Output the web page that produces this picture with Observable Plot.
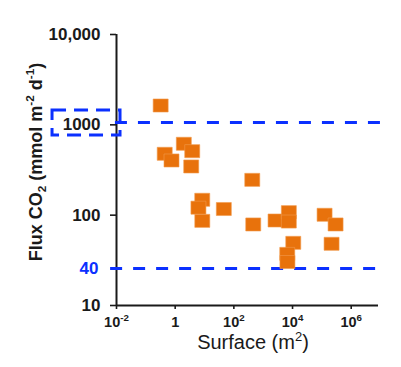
<!DOCTYPE html>
<html><head><meta charset="utf-8">
<script src="https://cdn.jsdelivr.net/npm/d3@7"></script>
<script src="https://cdn.jsdelivr.net/npm/@observablehq/plot@0.6"></script>
<style>
body{margin:0;background:#fff}
svg{font-family:"Liberation Sans",Arial,Helvetica,sans-serif}
</style>
</head><body><div id="chart"></div>
<script>
// Surface (m²) and CO2 flux (mmol m-2 d-1)
const surface = [0.32, 0.44, 0.75, 1.97, 3.81, 3.52, 8.36, 6.2, 8.4, 45.5, 424, 458, 2636, 7482, 7482, 10590, 6607, 6700, 123600, 293000, 214000];
const flux    = [1637, 478, 403, 617, 511, 346, 148, 121, 86.5, 117, 246, 78.9, 87.3, 108, 85, 49.4, 37.3, 30.3, 101, 78.9, 48.2];

const xTicks = [1e-2, 1, 1e2, 1e4, 1e6];
const xTickLabels = ["10^-2", "1", "10^2", "10^4", "10^6"];
const yTicks = [10, 100, 1000, 10000];
const yTickLabels = ["10", "100", "1000", "10,000"];

const xLabel = "Surface (m^2)";
const yLabel = "Flux CO_2 (mmol m^{-2} d^{-1})";

// reference dashed lines (as drawn)
const upperRef = 1062;
const upperRefX = [0.0092, 1.7e7];
const lowerRef = 25.6;
const lowerRefLabel = "40";
const lowerRefX = [0.0063, 1.2e7];
// dashed box around "1000"
const boxX = [6.6e-5, 0.0137];
const boxY = [762, 1442];

const blue = "#0b30ff";
const orange = "#e8720c";
const ink = "#1a1a1a";

const data = surface.map((s, i) => ({surface: s, flux: flux[i]}));

const rectSymbol = {
  draw(ctx, size) {
    const r = Math.sqrt(size / Math.PI);
    const w = r, h = r * 0.87;
    ctx.moveTo(-w, -h); ctx.lineTo(w, -h); ctx.lineTo(w, h); ctx.lineTo(-w, h); ctx.closePath();
  }
};

const dash = "12,11";

const chart = Plot.plot({
  width: 401,
  height: 367,
  marginTop: 34,
  marginBottom: 62,
  marginLeft: 116,
  marginRight: 23,
  x: {type: "log", domain: [1e-2, Math.pow(10, 6.93)]},
  y: {type: "log", domain: [10, 10000]},
  marks: [
    Plot.axisY({ticks: yTicks, tickFormat: d => yTickLabels[yTicks.indexOf(d)], tickSize: 6, tickPadding: 10,
      fontSize: 17, fontWeight: "bold", fill: ink, stroke: ink, strokeWidth: 1.6, label: null}),
    Plot.axisX({ticks: xTicks, tickFormat: d => xTickLabels[xTicks.indexOf(d)], tickSize: 4, tickPadding: 7,
      fontSize: 14.5, fontWeight: "bold", fill: ink, stroke: ink, strokeWidth: 1.6, label: null}),
    Plot.ruleX([1e-2], {stroke: ink, strokeWidth: 2}),
    Plot.ruleY([10], {stroke: ink, strokeWidth: 2}),
    Plot.rect([0], {x1: () => boxX[0], x2: () => boxX[1], y1: () => boxY[0], y2: () => boxY[1],
      fill: "none", stroke: blue, strokeWidth: 3, strokeDasharray: "14,8"}),
    Plot.ruleY([upperRef], {x1: upperRefX[0], x2: upperRefX[1], stroke: blue, strokeWidth: 3, strokeDasharray: dash}),
    Plot.ruleY([lowerRef], {x1: lowerRefX[0], x2: lowerRefX[1], stroke: blue, strokeWidth: 3, strokeDasharray: dash}),
    Plot.text([lowerRefLabel], {x: 1e-2, y: lowerRef, text: d => d, dx: -18, textAnchor: "end",
      fill: blue, fontSize: 17, fontWeight: "bold"}),
    Plot.dot(data, {x: "surface", y: "flux", symbol: rectSymbol, r: 7.5, fill: orange, stroke: "#f19a4e", strokeWidth: 0.6})
  ]
});

const svg = d3.select(chart);
svg.append("text").attr("class", "rich").attr("data-fs", 18)
  .attr("transform", "translate(42,162) rotate(-90)")
  .attr("text-anchor", "middle").attr("font-size", 18).attr("font-weight", "bold").attr("fill", ink)
  .text(yLabel);
svg.append("text").attr("class", "rich").attr("data-fs", 20)
  .attr("x", 253).attr("y", 349)
  .attr("text-anchor", "middle").attr("font-size", 20).attr("fill", ink)
  .text(xLabel);

function richify(el, fs) {
  const s = el.textContent;
  if (!/[\^_]/.test(s)) return;
  while (el.firstChild) el.removeChild(el.firstChild);
  const parts = s.match(/[\^_]\{[^}]*\}|[\^_][^\s{}()]+|[^\^_]+/g);
  let shift = 0;
  for (const p of parts) {
    const t = document.createElementNS("http://www.w3.org/2000/svg", "tspan");
    let target = 0, txt = p;
    if (p[0] === "^" || p[0] === "_") {
      target = p[0] === "^" ? -0.42 * fs : 0.22 * fs;
      txt = p.slice(1).replace(/[{}]/g, "");
      t.setAttribute("font-size", 0.65 * fs);
    }
    if (target !== shift) t.setAttribute("dy", target - shift);
    shift = target;
    t.textContent = txt;
    el.appendChild(t);
  }
}
chart.querySelectorAll("text").forEach(el => {
  const fs = +el.getAttribute("data-fs") || parseFloat(getComputedStyle(el).fontSize) || 15;
  richify(el, fs);
});

document.getElementById("chart").appendChild(chart);
</script>
</body></html>
